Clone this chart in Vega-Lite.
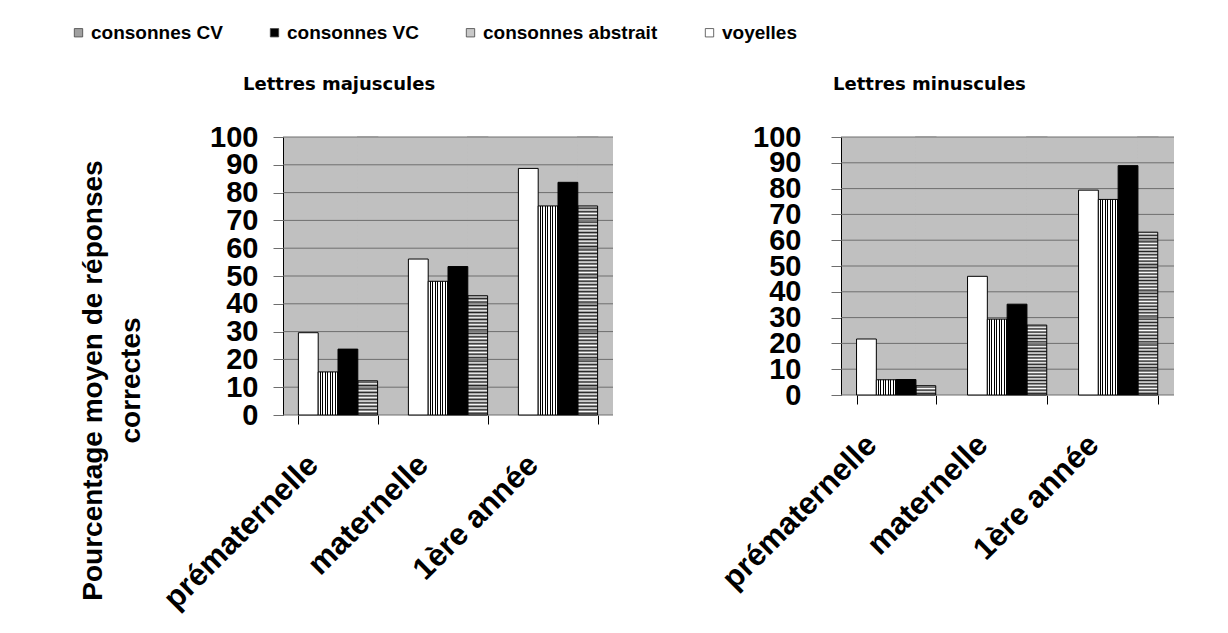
{
  "$schema": "https://vega.github.io/schema/vega-lite/v6.json",
  "padding": {"left": 69, "top": 23, "right": 5, "bottom": 5},
  "background": "white",
  "data": {"values": [
    {"panel": "majuscules", "level": "prématernelle", "series": "voyelles", "value": 29.6},
    {"panel": "majuscules", "level": "prématernelle", "series": "consonnes CV", "value": 15.5},
    {"panel": "majuscules", "level": "prématernelle", "series": "consonnes VC", "value": 23.7},
    {"panel": "majuscules", "level": "prématernelle", "series": "consonnes abstrait", "value": 12.3},
    {"panel": "majuscules", "level": "maternelle", "series": "voyelles", "value": 56.1},
    {"panel": "majuscules", "level": "maternelle", "series": "consonnes CV", "value": 48.1},
    {"panel": "majuscules", "level": "maternelle", "series": "consonnes VC", "value": 53.4},
    {"panel": "majuscules", "level": "maternelle", "series": "consonnes abstrait", "value": 42.9},
    {"panel": "majuscules", "level": "1ère année", "series": "voyelles", "value": 88.7},
    {"panel": "majuscules", "level": "1ère année", "series": "consonnes CV", "value": 75.2},
    {"panel": "majuscules", "level": "1ère année", "series": "consonnes VC", "value": 83.7},
    {"panel": "majuscules", "level": "1ère année", "series": "consonnes abstrait", "value": 75.2},
    {"panel": "minuscules", "level": "prématernelle", "series": "voyelles", "value": 21.7},
    {"panel": "minuscules", "level": "prématernelle", "series": "consonnes CV", "value": 5.9},
    {"panel": "minuscules", "level": "prématernelle", "series": "consonnes VC", "value": 6.0},
    {"panel": "minuscules", "level": "prématernelle", "series": "consonnes abstrait", "value": 3.6},
    {"panel": "minuscules", "level": "maternelle", "series": "voyelles", "value": 46.0},
    {"panel": "minuscules", "level": "maternelle", "series": "consonnes CV", "value": 29.4},
    {"panel": "minuscules", "level": "maternelle", "series": "consonnes VC", "value": 35.2},
    {"panel": "minuscules", "level": "maternelle", "series": "consonnes abstrait", "value": 27.1},
    {"panel": "minuscules", "level": "1ère année", "series": "voyelles", "value": 79.4},
    {"panel": "minuscules", "level": "1ère année", "series": "consonnes CV", "value": 75.8},
    {"panel": "minuscules", "level": "1ère année", "series": "consonnes VC", "value": 88.9},
    {"panel": "minuscules", "level": "1ère année", "series": "consonnes abstrait", "value": 63.1}
  ]},
  "spacing": 102,
  "hconcat": [
    {
      "width": 330,
      "height": 278,
      "title": {"text": "Lettres majuscules", "anchor": "start", "frame": "group", "dx": -40, "offset": 29},
      "layer": [
        {
          "transform": [{"filter": "datum.panel === 'majuscules' && datum.series === 'consonnes abstrait'"}],
          "mark": {"type": "bar", "stroke": null, "fill": {"gradient": "linear", "x1": 0, "y1": 0, "x2": 0, "y2": 1, "stops": [
            {"offset":0,"color":"#fff"},{"offset":0.00625,"color":"#222"},{"offset":0.0125,"color":"#fff"},{"offset":0.01875,"color":"#222"},{"offset":0.025,"color":"#fff"},{"offset":0.03125,"color":"#222"},{"offset":0.0375,"color":"#fff"},{"offset":0.04375,"color":"#222"},{"offset":0.05,"color":"#fff"},{"offset":0.05625,"color":"#222"},{"offset":0.0625,"color":"#fff"},{"offset":0.06875,"color":"#222"},{"offset":0.075,"color":"#fff"},{"offset":0.08125,"color":"#222"},{"offset":0.0875,"color":"#fff"},{"offset":0.09375,"color":"#222"},
            {"offset":0.1,"color":"#fff"},{"offset":0.10625,"color":"#222"},{"offset":0.1125,"color":"#fff"},{"offset":0.11875,"color":"#222"},{"offset":0.125,"color":"#fff"},{"offset":0.13125,"color":"#222"},{"offset":0.1375,"color":"#fff"},{"offset":0.14375,"color":"#222"},{"offset":0.15,"color":"#fff"},{"offset":0.15625,"color":"#222"},{"offset":0.1625,"color":"#fff"},{"offset":0.16875,"color":"#222"},{"offset":0.175,"color":"#fff"},{"offset":0.18125,"color":"#222"},{"offset":0.1875,"color":"#fff"},{"offset":0.19375,"color":"#222"},
            {"offset":0.2,"color":"#fff"},{"offset":0.20625,"color":"#222"},{"offset":0.2125,"color":"#fff"},{"offset":0.21875,"color":"#222"},{"offset":0.225,"color":"#fff"},{"offset":0.23125,"color":"#222"},{"offset":0.2375,"color":"#fff"},{"offset":0.24375,"color":"#222"},{"offset":0.25,"color":"#fff"},{"offset":0.25625,"color":"#222"},{"offset":0.2625,"color":"#fff"},{"offset":0.26875,"color":"#222"},{"offset":0.275,"color":"#fff"},{"offset":0.28125,"color":"#222"},{"offset":0.2875,"color":"#fff"},{"offset":0.29375,"color":"#222"},
            {"offset":0.3,"color":"#fff"},{"offset":0.30625,"color":"#222"},{"offset":0.3125,"color":"#fff"},{"offset":0.31875,"color":"#222"},{"offset":0.325,"color":"#fff"},{"offset":0.33125,"color":"#222"},{"offset":0.3375,"color":"#fff"},{"offset":0.34375,"color":"#222"},{"offset":0.35,"color":"#fff"},{"offset":0.35625,"color":"#222"},{"offset":0.3625,"color":"#fff"},{"offset":0.36875,"color":"#222"},{"offset":0.375,"color":"#fff"},{"offset":0.38125,"color":"#222"},{"offset":0.3875,"color":"#fff"},{"offset":0.39375,"color":"#222"},
            {"offset":0.4,"color":"#fff"},{"offset":0.40625,"color":"#222"},{"offset":0.4125,"color":"#fff"},{"offset":0.41875,"color":"#222"},{"offset":0.425,"color":"#fff"},{"offset":0.43125,"color":"#222"},{"offset":0.4375,"color":"#fff"},{"offset":0.44375,"color":"#222"},{"offset":0.45,"color":"#fff"},{"offset":0.45625,"color":"#222"},{"offset":0.4625,"color":"#fff"},{"offset":0.46875,"color":"#222"},{"offset":0.475,"color":"#fff"},{"offset":0.48125,"color":"#222"},{"offset":0.4875,"color":"#fff"},{"offset":0.49375,"color":"#222"},
            {"offset":0.5,"color":"#fff"},{"offset":0.50625,"color":"#222"},{"offset":0.5125,"color":"#fff"},{"offset":0.51875,"color":"#222"},{"offset":0.525,"color":"#fff"},{"offset":0.53125,"color":"#222"},{"offset":0.5375,"color":"#fff"},{"offset":0.54375,"color":"#222"},{"offset":0.55,"color":"#fff"},{"offset":0.55625,"color":"#222"},{"offset":0.5625,"color":"#fff"},{"offset":0.56875,"color":"#222"},{"offset":0.575,"color":"#fff"},{"offset":0.58125,"color":"#222"},{"offset":0.5875,"color":"#fff"},{"offset":0.59375,"color":"#222"},
            {"offset":0.6,"color":"#fff"},{"offset":0.60625,"color":"#222"},{"offset":0.6125,"color":"#fff"},{"offset":0.61875,"color":"#222"},{"offset":0.625,"color":"#fff"},{"offset":0.63125,"color":"#222"},{"offset":0.6375,"color":"#fff"},{"offset":0.64375,"color":"#222"},{"offset":0.65,"color":"#fff"},{"offset":0.65625,"color":"#222"},{"offset":0.6625,"color":"#fff"},{"offset":0.66875,"color":"#222"},{"offset":0.675,"color":"#fff"},{"offset":0.68125,"color":"#222"},{"offset":0.6875,"color":"#fff"},{"offset":0.69375,"color":"#222"},
            {"offset":0.7,"color":"#fff"},{"offset":0.70625,"color":"#222"},{"offset":0.7125,"color":"#fff"},{"offset":0.71875,"color":"#222"},{"offset":0.725,"color":"#fff"},{"offset":0.73125,"color":"#222"},{"offset":0.7375,"color":"#fff"},{"offset":0.74375,"color":"#222"},{"offset":0.75,"color":"#fff"},{"offset":0.75625,"color":"#222"},{"offset":0.7625,"color":"#fff"},{"offset":0.76875,"color":"#222"},{"offset":0.775,"color":"#fff"},{"offset":0.78125,"color":"#222"},{"offset":0.7875,"color":"#fff"},{"offset":0.79375,"color":"#222"},
            {"offset":0.8,"color":"#fff"},{"offset":0.80625,"color":"#222"},{"offset":0.8125,"color":"#fff"},{"offset":0.81875,"color":"#222"},{"offset":0.825,"color":"#fff"},{"offset":0.83125,"color":"#222"},{"offset":0.8375,"color":"#fff"},{"offset":0.84375,"color":"#222"},{"offset":0.85,"color":"#fff"},{"offset":0.85625,"color":"#222"},{"offset":0.8625,"color":"#fff"},{"offset":0.86875,"color":"#222"},{"offset":0.875,"color":"#fff"},{"offset":0.88125,"color":"#222"},{"offset":0.8875,"color":"#fff"},{"offset":0.89375,"color":"#222"},
            {"offset":0.9,"color":"#fff"},{"offset":0.90625,"color":"#222"},{"offset":0.9125,"color":"#fff"},{"offset":0.91875,"color":"#222"},{"offset":0.925,"color":"#fff"},{"offset":0.93125,"color":"#222"},{"offset":0.9375,"color":"#fff"},{"offset":0.94375,"color":"#222"},{"offset":0.95,"color":"#fff"},{"offset":0.95625,"color":"#222"},{"offset":0.9625,"color":"#fff"},{"offset":0.96875,"color":"#222"},{"offset":0.975,"color":"#fff"},{"offset":0.98125,"color":"#222"},{"offset":0.9875,"color":"#fff"},{"offset":0.99375,"color":"#222"},
            {"offset":1,"color":"#fff"}
          ]}},
          "encoding": {
            "x": {"field": "level", "type": "nominal", "sort": ["prématernelle", "maternelle", "1ère année"], "scale": {"paddingInner": 0.28, "paddingOuter": 0.14}, "title": null},
            "xOffset": {"field": "series", "type": "nominal", "scale": {"domain": ["voyelles", "consonnes CV", "consonnes VC", "consonnes abstrait"]}},
            "y": {"datum": 100, "type": "quantitative", "scale": {"domain": [0, 100], "nice": false}, "axis": {"values": [0,10,20,30,40,50,60,70,80,90,100], "labelPadding": 15, "title": ["Pourcentage moyen de réponses", "correctes"], "titleX": -182, "titleY": 243, "titleAngle": 270, "titleAlign": "center", "titleBaseline": "alphabetic", "titleLineHeight": 38}},
            "y2": {"datum": 0}
          }
        },
        {
          "transform": [{"filter": "datum.panel === 'majuscules' && datum.series === 'consonnes abstrait'"}],
          "mark": {"type": "bar", "fill": "#c0c0c0", "stroke": "#c0c0c0", "strokeWidth": 1.5},
          "encoding": {
            "x": {"field": "level", "type": "nominal", "sort": ["prématernelle", "maternelle", "1ère année"], "scale": {"paddingInner": 0.28, "paddingOuter": 0.14}, "title": null},
            "xOffset": {"field": "series", "type": "nominal", "scale": {"domain": ["voyelles", "consonnes CV", "consonnes VC", "consonnes abstrait"]}},
            "y": {"field": "value", "type": "quantitative", "scale": {"domain": [0, 100], "nice": false}, "axis": {"values": [0,10,20,30,40,50,60,70,80,90,100], "labelPadding": 15, "title": ["Pourcentage moyen de réponses", "correctes"], "titleX": -182, "titleY": 243, "titleAngle": 270, "titleAlign": "center", "titleBaseline": "alphabetic", "titleLineHeight": 38}},
            "y2": {"datum": 100}
          }
        },
        {
          "data": {"values": [{"g": 0}, {"g": 10}, {"g": 20}, {"g": 30}, {"g": 40}, {"g": 50}, {"g": 60}, {"g": 70}, {"g": 80}, {"g": 90}, {"g": 100}]},
          "mark": {"type": "rule", "color": "#6e6e6e", "strokeWidth": 1},
          "encoding": {
            "y": {"field": "g", "type": "quantitative", "scale": {"domain": [0, 100], "nice": false}, "axis": {"values": [0,10,20,30,40,50,60,70,80,90,100], "labelPadding": 15, "title": ["Pourcentage moyen de réponses", "correctes"], "titleX": -182, "titleY": 243, "titleAngle": 270, "titleAlign": "center", "titleBaseline": "alphabetic", "titleLineHeight": 38}}
          }
        },
        {
          "transform": [{"filter": "datum.panel === 'majuscules' && (datum.series === 'voyelles' || datum.series === 'consonnes VC')"}],
          "mark": {"type": "bar", "stroke": "#000", "strokeWidth": 1},
          "encoding": {
            "x": {"field": "level", "type": "nominal", "sort": ["prématernelle", "maternelle", "1ère année"], "scale": {"paddingInner": 0.28, "paddingOuter": 0.14}, "title": null},
            "xOffset": {"field": "series", "type": "nominal", "scale": {"domain": ["voyelles", "consonnes CV", "consonnes VC", "consonnes abstrait"]}},
            "y": {"field": "value", "type": "quantitative", "scale": {"domain": [0, 100], "nice": false}, "axis": {"values": [0,10,20,30,40,50,60,70,80,90,100], "labelPadding": 15, "title": ["Pourcentage moyen de réponses", "correctes"], "titleX": -182, "titleY": 243, "titleAngle": 270, "titleAlign": "center", "titleBaseline": "alphabetic", "titleLineHeight": 38}},
            "color": {"field": "series", "type": "nominal", "scale": {"domain": ["consonnes CV", "consonnes VC", "consonnes abstrait", "voyelles"], "range": ["#a0a0a0", "#000000", "#c8c8c8", "#ffffff"]}, "legend": {"orient": "none", "legendX": -214, "legendY": -114, "direction": "horizontal", "title": null, "symbolType": "square", "symbolSize": 70, "symbolStrokeColor": "#444", "symbolStrokeWidth": 0.8, "labelFont": "Liberation Sans", "labelFontSize": 19, "labelFontWeight": "bold", "labelColor": "#000", "columnPadding": 42, "labelOffset": 3, "labelLimit": 0}}
          }
        },
        {
          "transform": [{"filter": "datum.panel === 'majuscules' && datum.series === 'consonnes CV'"}],
          "mark": {"type": "bar", "stroke": "#000", "strokeWidth": 1, "fill": {"gradient": "linear", "x1": 0, "y1": 0, "x2": 1, "y2": 0, "stops": [
            {"offset":0,"color":"white"},{"offset":0.075,"color":"white"},{"offset":0.075,"color":"black"},{"offset":0.125,"color":"black"},
            {"offset":0.125,"color":"white"},{"offset":0.2,"color":"white"},{"offset":0.2,"color":"black"},{"offset":0.25,"color":"black"},
            {"offset":0.25,"color":"white"},{"offset":0.325,"color":"white"},{"offset":0.325,"color":"black"},{"offset":0.375,"color":"black"},
            {"offset":0.375,"color":"white"},{"offset":0.45,"color":"white"},{"offset":0.45,"color":"black"},{"offset":0.5,"color":"black"},
            {"offset":0.5,"color":"white"},{"offset":0.575,"color":"white"},{"offset":0.575,"color":"black"},{"offset":0.625,"color":"black"},
            {"offset":0.625,"color":"white"},{"offset":0.7,"color":"white"},{"offset":0.7,"color":"black"},{"offset":0.75,"color":"black"},
            {"offset":0.75,"color":"white"},{"offset":0.825,"color":"white"},{"offset":0.825,"color":"black"},{"offset":0.875,"color":"black"},
            {"offset":0.875,"color":"white"},{"offset":0.95,"color":"white"},{"offset":0.95,"color":"black"},{"offset":1,"color":"black"}
          ]}},
          "encoding": {
            "x": {"field": "level", "type": "nominal", "sort": ["prématernelle", "maternelle", "1ère année"], "scale": {"paddingInner": 0.28, "paddingOuter": 0.14}, "title": null},
            "xOffset": {"field": "series", "type": "nominal", "scale": {"domain": ["voyelles", "consonnes CV", "consonnes VC", "consonnes abstrait"]}},
            "y": {"field": "value", "type": "quantitative", "scale": {"domain": [0, 100], "nice": false}, "axis": {"values": [0,10,20,30,40,50,60,70,80,90,100], "labelPadding": 15, "title": ["Pourcentage moyen de réponses", "correctes"], "titleX": -182, "titleY": 243, "titleAngle": 270, "titleAlign": "center", "titleBaseline": "alphabetic", "titleLineHeight": 38}}
          }
        },
        {
          "transform": [{"filter": "datum.panel === 'majuscules' && datum.series === 'consonnes abstrait'"}],
          "mark": {"type": "bar", "fill": null, "fillOpacity": 0, "stroke": "#000", "strokeWidth": 1},
          "encoding": {
            "x": {"field": "level", "type": "nominal", "sort": ["prématernelle", "maternelle", "1ère année"], "scale": {"paddingInner": 0.28, "paddingOuter": 0.14}, "title": null},
            "xOffset": {"field": "series", "type": "nominal", "scale": {"domain": ["voyelles", "consonnes CV", "consonnes VC", "consonnes abstrait"]}},
            "y": {"field": "value", "type": "quantitative", "scale": {"domain": [0, 100], "nice": false}, "axis": {"values": [0,10,20,30,40,50,60,70,80,90,100], "labelPadding": 15, "title": ["Pourcentage moyen de réponses", "correctes"], "titleX": -182, "titleY": 243, "titleAngle": 270, "titleAlign": "center", "titleBaseline": "alphabetic", "titleLineHeight": 38}}
          }
        }
      ]
    },
    {
      "width": 333,
      "height": 258,
      "title": {"text": "Lettres minuscules", "anchor": "start", "frame": "group", "dx": -8, "offset": 29},
      "layer": [
        {
          "transform": [{"filter": "datum.panel === 'minuscules' && datum.series === 'consonnes abstrait'"}],
          "mark": {"type": "bar", "stroke": null, "fill": {"gradient": "linear", "x1": 0, "y1": 0, "x2": 0, "y2": 1, "stops": [
            {"offset":0,"color":"#fff"},{"offset":0.00625,"color":"#222"},{"offset":0.0125,"color":"#fff"},{"offset":0.01875,"color":"#222"},{"offset":0.025,"color":"#fff"},{"offset":0.03125,"color":"#222"},{"offset":0.0375,"color":"#fff"},{"offset":0.04375,"color":"#222"},{"offset":0.05,"color":"#fff"},{"offset":0.05625,"color":"#222"},{"offset":0.0625,"color":"#fff"},{"offset":0.06875,"color":"#222"},{"offset":0.075,"color":"#fff"},{"offset":0.08125,"color":"#222"},{"offset":0.0875,"color":"#fff"},{"offset":0.09375,"color":"#222"},
            {"offset":0.1,"color":"#fff"},{"offset":0.10625,"color":"#222"},{"offset":0.1125,"color":"#fff"},{"offset":0.11875,"color":"#222"},{"offset":0.125,"color":"#fff"},{"offset":0.13125,"color":"#222"},{"offset":0.1375,"color":"#fff"},{"offset":0.14375,"color":"#222"},{"offset":0.15,"color":"#fff"},{"offset":0.15625,"color":"#222"},{"offset":0.1625,"color":"#fff"},{"offset":0.16875,"color":"#222"},{"offset":0.175,"color":"#fff"},{"offset":0.18125,"color":"#222"},{"offset":0.1875,"color":"#fff"},{"offset":0.19375,"color":"#222"},
            {"offset":0.2,"color":"#fff"},{"offset":0.20625,"color":"#222"},{"offset":0.2125,"color":"#fff"},{"offset":0.21875,"color":"#222"},{"offset":0.225,"color":"#fff"},{"offset":0.23125,"color":"#222"},{"offset":0.2375,"color":"#fff"},{"offset":0.24375,"color":"#222"},{"offset":0.25,"color":"#fff"},{"offset":0.25625,"color":"#222"},{"offset":0.2625,"color":"#fff"},{"offset":0.26875,"color":"#222"},{"offset":0.275,"color":"#fff"},{"offset":0.28125,"color":"#222"},{"offset":0.2875,"color":"#fff"},{"offset":0.29375,"color":"#222"},
            {"offset":0.3,"color":"#fff"},{"offset":0.30625,"color":"#222"},{"offset":0.3125,"color":"#fff"},{"offset":0.31875,"color":"#222"},{"offset":0.325,"color":"#fff"},{"offset":0.33125,"color":"#222"},{"offset":0.3375,"color":"#fff"},{"offset":0.34375,"color":"#222"},{"offset":0.35,"color":"#fff"},{"offset":0.35625,"color":"#222"},{"offset":0.3625,"color":"#fff"},{"offset":0.36875,"color":"#222"},{"offset":0.375,"color":"#fff"},{"offset":0.38125,"color":"#222"},{"offset":0.3875,"color":"#fff"},{"offset":0.39375,"color":"#222"},
            {"offset":0.4,"color":"#fff"},{"offset":0.40625,"color":"#222"},{"offset":0.4125,"color":"#fff"},{"offset":0.41875,"color":"#222"},{"offset":0.425,"color":"#fff"},{"offset":0.43125,"color":"#222"},{"offset":0.4375,"color":"#fff"},{"offset":0.44375,"color":"#222"},{"offset":0.45,"color":"#fff"},{"offset":0.45625,"color":"#222"},{"offset":0.4625,"color":"#fff"},{"offset":0.46875,"color":"#222"},{"offset":0.475,"color":"#fff"},{"offset":0.48125,"color":"#222"},{"offset":0.4875,"color":"#fff"},{"offset":0.49375,"color":"#222"},
            {"offset":0.5,"color":"#fff"},{"offset":0.50625,"color":"#222"},{"offset":0.5125,"color":"#fff"},{"offset":0.51875,"color":"#222"},{"offset":0.525,"color":"#fff"},{"offset":0.53125,"color":"#222"},{"offset":0.5375,"color":"#fff"},{"offset":0.54375,"color":"#222"},{"offset":0.55,"color":"#fff"},{"offset":0.55625,"color":"#222"},{"offset":0.5625,"color":"#fff"},{"offset":0.56875,"color":"#222"},{"offset":0.575,"color":"#fff"},{"offset":0.58125,"color":"#222"},{"offset":0.5875,"color":"#fff"},{"offset":0.59375,"color":"#222"},
            {"offset":0.6,"color":"#fff"},{"offset":0.60625,"color":"#222"},{"offset":0.6125,"color":"#fff"},{"offset":0.61875,"color":"#222"},{"offset":0.625,"color":"#fff"},{"offset":0.63125,"color":"#222"},{"offset":0.6375,"color":"#fff"},{"offset":0.64375,"color":"#222"},{"offset":0.65,"color":"#fff"},{"offset":0.65625,"color":"#222"},{"offset":0.6625,"color":"#fff"},{"offset":0.66875,"color":"#222"},{"offset":0.675,"color":"#fff"},{"offset":0.68125,"color":"#222"},{"offset":0.6875,"color":"#fff"},{"offset":0.69375,"color":"#222"},
            {"offset":0.7,"color":"#fff"},{"offset":0.70625,"color":"#222"},{"offset":0.7125,"color":"#fff"},{"offset":0.71875,"color":"#222"},{"offset":0.725,"color":"#fff"},{"offset":0.73125,"color":"#222"},{"offset":0.7375,"color":"#fff"},{"offset":0.74375,"color":"#222"},{"offset":0.75,"color":"#fff"},{"offset":0.75625,"color":"#222"},{"offset":0.7625,"color":"#fff"},{"offset":0.76875,"color":"#222"},{"offset":0.775,"color":"#fff"},{"offset":0.78125,"color":"#222"},{"offset":0.7875,"color":"#fff"},{"offset":0.79375,"color":"#222"},
            {"offset":0.8,"color":"#fff"},{"offset":0.80625,"color":"#222"},{"offset":0.8125,"color":"#fff"},{"offset":0.81875,"color":"#222"},{"offset":0.825,"color":"#fff"},{"offset":0.83125,"color":"#222"},{"offset":0.8375,"color":"#fff"},{"offset":0.84375,"color":"#222"},{"offset":0.85,"color":"#fff"},{"offset":0.85625,"color":"#222"},{"offset":0.8625,"color":"#fff"},{"offset":0.86875,"color":"#222"},{"offset":0.875,"color":"#fff"},{"offset":0.88125,"color":"#222"},{"offset":0.8875,"color":"#fff"},{"offset":0.89375,"color":"#222"},
            {"offset":0.9,"color":"#fff"},{"offset":0.90625,"color":"#222"},{"offset":0.9125,"color":"#fff"},{"offset":0.91875,"color":"#222"},{"offset":0.925,"color":"#fff"},{"offset":0.93125,"color":"#222"},{"offset":0.9375,"color":"#fff"},{"offset":0.94375,"color":"#222"},{"offset":0.95,"color":"#fff"},{"offset":0.95625,"color":"#222"},{"offset":0.9625,"color":"#fff"},{"offset":0.96875,"color":"#222"},{"offset":0.975,"color":"#fff"},{"offset":0.98125,"color":"#222"},{"offset":0.9875,"color":"#fff"},{"offset":0.99375,"color":"#222"},
            {"offset":1,"color":"#fff"}
          ]}},
          "encoding": {
            "x": {"field": "level", "type": "nominal", "sort": ["prématernelle", "maternelle", "1ère année"], "scale": {"paddingInner": 0.28, "paddingOuter": 0.14}, "title": null},
            "xOffset": {"field": "series", "type": "nominal", "scale": {"domain": ["voyelles", "consonnes CV", "consonnes VC", "consonnes abstrait"]}},
            "y": {"datum": 100, "type": "quantitative", "scale": {"domain": [0, 100], "nice": false}, "axis": {"values": [0,10,20,30,40,50,60,70,80,90,100], "labelPadding": 30, "title": null}},
            "y2": {"datum": 0}
          }
        },
        {
          "transform": [{"filter": "datum.panel === 'minuscules' && datum.series === 'consonnes abstrait'"}],
          "mark": {"type": "bar", "fill": "#c0c0c0", "stroke": "#c0c0c0", "strokeWidth": 1.5},
          "encoding": {
            "x": {"field": "level", "type": "nominal", "sort": ["prématernelle", "maternelle", "1ère année"], "scale": {"paddingInner": 0.28, "paddingOuter": 0.14}, "title": null},
            "xOffset": {"field": "series", "type": "nominal", "scale": {"domain": ["voyelles", "consonnes CV", "consonnes VC", "consonnes abstrait"]}},
            "y": {"field": "value", "type": "quantitative", "scale": {"domain": [0, 100], "nice": false}, "axis": {"values": [0,10,20,30,40,50,60,70,80,90,100], "labelPadding": 30, "title": null}},
            "y2": {"datum": 100}
          }
        },
        {
          "data": {"values": [{"g": 0}, {"g": 10}, {"g": 20}, {"g": 30}, {"g": 40}, {"g": 50}, {"g": 60}, {"g": 70}, {"g": 80}, {"g": 90}, {"g": 100}]},
          "mark": {"type": "rule", "color": "#6e6e6e", "strokeWidth": 1},
          "encoding": {
            "y": {"field": "g", "type": "quantitative", "scale": {"domain": [0, 100], "nice": false}, "axis": {"values": [0,10,20,30,40,50,60,70,80,90,100], "labelPadding": 30, "title": null}}
          }
        },
        {
          "transform": [{"filter": "datum.panel === 'minuscules' && (datum.series === 'voyelles' || datum.series === 'consonnes VC')"}],
          "mark": {"type": "bar", "stroke": "#000", "strokeWidth": 1},
          "encoding": {
            "x": {"field": "level", "type": "nominal", "sort": ["prématernelle", "maternelle", "1ère année"], "scale": {"paddingInner": 0.28, "paddingOuter": 0.14}, "title": null},
            "xOffset": {"field": "series", "type": "nominal", "scale": {"domain": ["voyelles", "consonnes CV", "consonnes VC", "consonnes abstrait"]}},
            "y": {"field": "value", "type": "quantitative", "scale": {"domain": [0, 100], "nice": false}, "axis": {"values": [0,10,20,30,40,50,60,70,80,90,100], "labelPadding": 30, "title": null}},
            "color": {"field": "series", "type": "nominal", "scale": {"domain": ["consonnes CV", "consonnes VC", "consonnes abstrait", "voyelles"], "range": ["#a0a0a0", "#000000", "#c8c8c8", "#ffffff"]}, "legend": {"orient": "none", "legendX": -214, "legendY": -114, "direction": "horizontal", "title": null, "symbolType": "square", "symbolSize": 70, "symbolStrokeColor": "#444", "symbolStrokeWidth": 0.8, "labelFont": "Liberation Sans", "labelFontSize": 19, "labelFontWeight": "bold", "labelColor": "#000", "columnPadding": 42, "labelOffset": 3, "labelLimit": 0}}
          }
        },
        {
          "transform": [{"filter": "datum.panel === 'minuscules' && datum.series === 'consonnes CV'"}],
          "mark": {"type": "bar", "stroke": "#000", "strokeWidth": 1, "fill": {"gradient": "linear", "x1": 0, "y1": 0, "x2": 1, "y2": 0, "stops": [
            {"offset":0,"color":"white"},{"offset":0.075,"color":"white"},{"offset":0.075,"color":"black"},{"offset":0.125,"color":"black"},
            {"offset":0.125,"color":"white"},{"offset":0.2,"color":"white"},{"offset":0.2,"color":"black"},{"offset":0.25,"color":"black"},
            {"offset":0.25,"color":"white"},{"offset":0.325,"color":"white"},{"offset":0.325,"color":"black"},{"offset":0.375,"color":"black"},
            {"offset":0.375,"color":"white"},{"offset":0.45,"color":"white"},{"offset":0.45,"color":"black"},{"offset":0.5,"color":"black"},
            {"offset":0.5,"color":"white"},{"offset":0.575,"color":"white"},{"offset":0.575,"color":"black"},{"offset":0.625,"color":"black"},
            {"offset":0.625,"color":"white"},{"offset":0.7,"color":"white"},{"offset":0.7,"color":"black"},{"offset":0.75,"color":"black"},
            {"offset":0.75,"color":"white"},{"offset":0.825,"color":"white"},{"offset":0.825,"color":"black"},{"offset":0.875,"color":"black"},
            {"offset":0.875,"color":"white"},{"offset":0.95,"color":"white"},{"offset":0.95,"color":"black"},{"offset":1,"color":"black"}
          ]}},
          "encoding": {
            "x": {"field": "level", "type": "nominal", "sort": ["prématernelle", "maternelle", "1ère année"], "scale": {"paddingInner": 0.28, "paddingOuter": 0.14}, "title": null},
            "xOffset": {"field": "series", "type": "nominal", "scale": {"domain": ["voyelles", "consonnes CV", "consonnes VC", "consonnes abstrait"]}},
            "y": {"field": "value", "type": "quantitative", "scale": {"domain": [0, 100], "nice": false}, "axis": {"values": [0,10,20,30,40,50,60,70,80,90,100], "labelPadding": 30, "title": null}}
          }
        },
        {
          "transform": [{"filter": "datum.panel === 'minuscules' && datum.series === 'consonnes abstrait'"}],
          "mark": {"type": "bar", "fill": null, "fillOpacity": 0, "stroke": "#000", "strokeWidth": 1},
          "encoding": {
            "x": {"field": "level", "type": "nominal", "sort": ["prématernelle", "maternelle", "1ère année"], "scale": {"paddingInner": 0.28, "paddingOuter": 0.14}, "title": null},
            "xOffset": {"field": "series", "type": "nominal", "scale": {"domain": ["voyelles", "consonnes CV", "consonnes VC", "consonnes abstrait"]}},
            "y": {"field": "value", "type": "quantitative", "scale": {"domain": [0, 100], "nice": false}, "axis": {"values": [0,10,20,30,40,50,60,70,80,90,100], "labelPadding": 30, "title": null}}
          }
        }
      ]
    }
  ],
  "config": {
    "view": {"fill": "#c0c0c0", "stroke": null},
    "title": {"font": "DejaVu Sans", "fontSize": 18, "fontWeight": "bold", "color": "#000"},
    "axisY": {"labelFont": "Liberation Sans", "labelFontSize": 29, "labelFontWeight": "bold", "labelColor": "#000", "labelOverlap": false, "labelBound": false, "labelFlush": false, "tickSize": 10, "tickColor": "#6e6e6e", "domainColor": "#000", "domainWidth": 1, "grid": false, "titleFont": "Liberation Sans", "titleFontSize": 28, "titleFontWeight": "bold", "titleColor": "#000"},
    "axisX": {"labelFont": "Liberation Sans", "labelFontSize": 31, "labelFontWeight": "bold", "labelColor": "#000", "labelAngle": -45, "labelAlign": "right", "labelBaseline": "middle", "labelLimit": 0, "labelPadding": 36, "labelOffset": -25, "labelOverlap": false, "tickBand": "extent", "tickSize": 9, "tickColor": "#000", "domain": false, "grid": false}
  }
}
